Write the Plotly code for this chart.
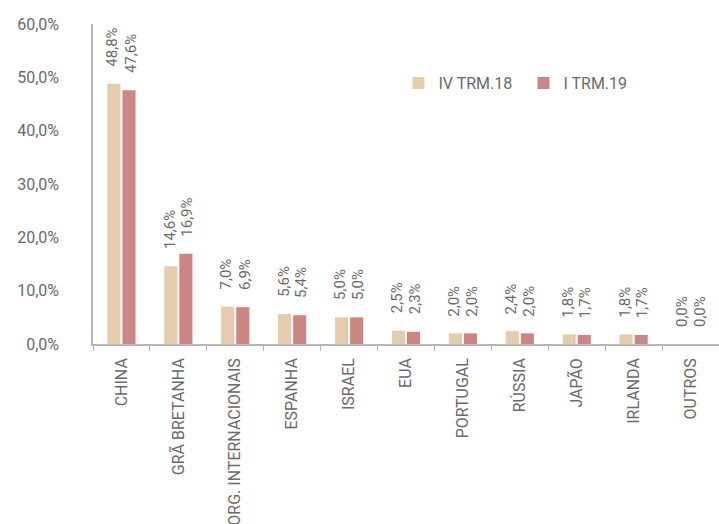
import plotly.graph_objects as go

categories = ["CHINA", "GRÃ BRETANHA", "ORG. INTERNACIONAIS", "ESPANHA", "ISRAEL",
              "EUA", "PORTUGAL", "RÚSSIA", "JAPÃO", "IRLANDA", "OUTROS"]
series_names = ["IV TRM.18", "I TRM.19"]
iv_trm18 = [48.8, 14.6, 7.0, 5.6, 5.0, 2.5, 2.0, 2.4, 1.8, 1.8, 0.0]
i_trm19 = [47.6, 16.9, 6.9, 5.4, 5.0, 2.3, 2.0, 2.0, 1.7, 1.7, 0.0]
y_ticks = [0, 10, 20, 30, 40, 50, 60]
y_tick_labels = ["0,0%", "10,0%", "20,0%", "30,0%", "40,0%", "50,0%", "60,0%"]

colors = ["#E4CCAC", "#CD8682"]
font_family = "Roboto, sans-serif"
text_color = "#6a6a6a"

fig = go.Figure()
for name, vals, col in zip(series_names, [iv_trm18, i_trm19], colors):
    fig.add_trace(go.Bar(x=categories, y=vals, name=name, marker_color=col,
                         marker_line_width=0))

def fmt(v):
    return f"{v:.1f}%".replace(".", ",")

annotations = []
for vals, shift in [(iv_trm18, -9), (i_trm19, 9)]:
    for c, v in zip(categories, vals):
        annotations.append(dict(
            x=c, y=v, xref="x", yref="y", text=fmt(v), showarrow=False,
            textangle=-90, xanchor="center", yanchor="bottom",
            xshift=shift, yshift=15,
            font=dict(family=font_family, size=15, color=text_color)))

fig.update_layout(
    width=719, height=524,
    margin=dict(l=93, r=0, t=24, b=180),
    paper_bgcolor="white", plot_bgcolor="white",
    barmode="group", bargap=0.47, bargroupgap=0.13,
    font=dict(family=font_family, size=15, color=text_color),
    showlegend=True,
    legend=dict(orientation="h", x=0.488, y=0.815, xanchor="left", yanchor="middle",
                font=dict(size=16, color=text_color), entrywidth=80,
                traceorder="normal", bgcolor="rgba(0,0,0,0)"),
    annotations=annotations,
    xaxis=dict(showline=True, linecolor="#b5b5b5", linewidth=1.5,
               ticks="outside", tickson="boundaries", ticklen=5, tickcolor="#b5b5b5",
               tickangle=-90, tickfont=dict(size=16, color=text_color),
               ticklabelstandoff=6, showgrid=False, range=[-0.5, 10.5],
               automargin=False),
    yaxis=dict(showline=True, linecolor="#b5b5b5", linewidth=1.5,
               range=[0, 60], tickvals=y_ticks, ticktext=y_tick_labels,
               ticks="", showgrid=False, zeroline=False, automargin=False,
               tickfont=dict(size=16, color=text_color), ticklabelstandoff=29),
)

fig.write_html("out.html", config={"displayModeBar": False},
               post_script="document.body.style.margin='0px';document.body.style.overflow='hidden';")
